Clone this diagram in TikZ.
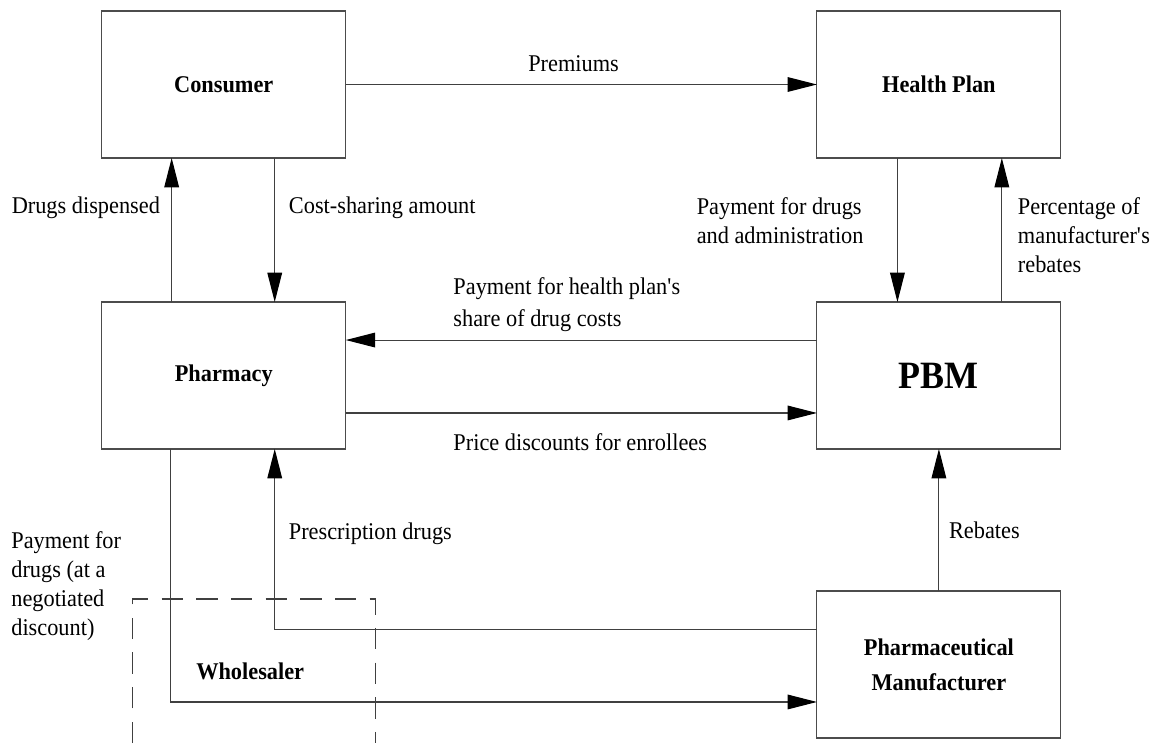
\documentclass[tikz,border=0pt]{standalone}
\usepackage{fontspec}
\setmainfont{Liberation Serif}[FakeStretch=0.93]
\usetikzlibrary{arrows.meta}

\begin{document}
\begin{tikzpicture}[x=0.75pt,y=-0.75pt,
 entity/.style={draw=black!70, line width=0.8pt, minimum width=183pt, minimum height=110.25pt,
  inner sep=0pt, outer sep=0pt, font=\fontsize{18}{21.75}\selectfont\bfseries, align=center},
 flow/.style={draw=black!75, line width=0.8pt, -{Triangle[length=22pt,width=11pt,black]}},
 lbl/.style={anchor=north west, inner sep=0pt, align=left, font=\fontsize{18}{21.75}\selectfont}]

 \useasboundingbox (0,0) rectangle (1156,743);

 % the five parties
 \node[entity] (consumer) at (223.8,84.5) {Consumer};
 \node[entity] (healthplan) at (938.9,84.5) {Health Plan};
 \node[entity] (pharmacy) at (223.8,375.5) {Pharmacy};
 \node[entity, font=\fontsize{29}{32}\selectfont\bfseries] (pbm) at (938.9,375.5) {PBM};
 \node[entity, font=\fontsize{18}{26}\selectfont\bfseries] (manufacturer) at (938.9,664.5) {Pharmaceutical\\Manufacturer};

 % wholesaler (open at the bottom)
 \draw[black!75, line width=0.8pt, dash pattern=on 16pt off 10pt] (132.4,743) -- (132.4,599) -- (375.5,599) -- (375.5,743);
 \node[lbl, font=\fontsize{18}{21.75}\selectfont\bfseries] (wholesaler) at (196,663) {Wholesaler};

 % flows
 \draw[flow] (consumer.east) -- (healthplan.west);
 \node[lbl] (premiums) at (528,55) {Premiums};

 \draw[flow] ([xshift=-39.1pt]pharmacy.north) -- ([xshift=-39.1pt]consumer.south);
 \node[lbl] (dispensed) at (11.5,197) {Drugs dispensed};

 \draw[flow] ([xshift=38.2pt]consumer.south) -- ([xshift=38.2pt]pharmacy.north);
 \node[lbl] (costshare) at (288.7,197) {Cost-sharing amount};

 \draw[flow] ([xshift=-31.1pt]healthplan.south) -- ([xshift=-31.1pt]pbm.north);
 \node[lbl] (payadmin) at (696.5,197) {Payment for drugs\\and administration};

 \draw[flow] ([xshift=47.2pt]pbm.north) -- ([xshift=47.2pt]healthplan.south);
 \node[lbl] (percent) at (1017.7,197) {Percentage of\\manufacturer\textquotesingle s\\rebates};

 \draw[flow] ([yshift=26.6pt]pbm.west) -- ([yshift=26.6pt]pharmacy.east);
 \node[lbl, font=\fontsize{18}{24}\selectfont] (payshare) at (453.2,277) {Payment for health plan\textquotesingle s\\share of drug costs};

 \draw[flow] ([yshift=-28.1pt]pharmacy.east) -- ([yshift=-28.1pt]pbm.west);
 \node[lbl] (discounts) at (453.2,433) {Price discounts for enrollees};

 \draw[flow] (manufacturer.north) -- (pbm.south);
 \node[lbl] (rebates) at (948.8,522) {Rebates};

 \draw[flow] ([yshift=26.6pt]manufacturer.west) -| ([xshift=38.2pt]pharmacy.south);
 \node[lbl] (rxdrugs) at (288.6,523) {Prescription drugs};

 \draw[flow] ([xshift=-40.2pt]pharmacy.south) |- ([yshift=-28.1pt]manufacturer.west);
 \node[lbl] (paydrugs) at (11.1,531) {Payment for\\drugs (at a\\negotiated\\discount)};

\end{tikzpicture}
\end{document}
